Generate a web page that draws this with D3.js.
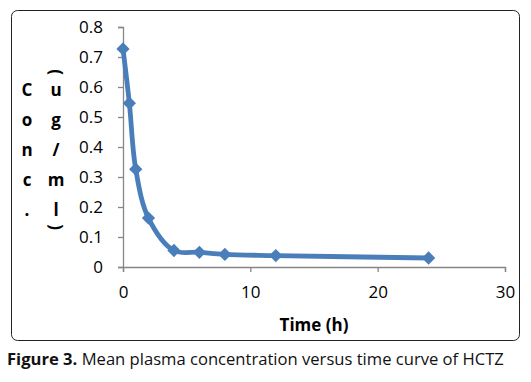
<!DOCTYPE html>
<html><head><meta charset="utf-8">
<script src="https://cdn.jsdelivr.net/npm/d3@7"></script>
<style>body{margin:0;background:#fff}svg{display:block}</style>
</head><body>
<script>
const times = [0, 0.5, 1, 2, 4, 6, 8, 12, 24];
const conc = [0.727, 0.546, 0.326, 0.163, 0.055, 0.049, 0.042, 0.038, 0.030];
const xTicks = [0, 10, 20, 30];
const yTicks = [0, 0.1, 0.2, 0.3, 0.4, 0.5, 0.6, 0.7, 0.8];
const yLabelCol1 = ["C", "o", "n", "c", "."];
const yLabelCol2 = ["(", "u", "g", "/", "m", "l", ")"];
const xTitle = "Time (h)";
const captionBold = "Figure 3.";
const captionText = " Mean plasma concentration versus time curve of HCTZ";

const W = 531, H = 382;
const font = "'Open Sans', 'Noto Sans', sans-serif";
const svg = d3.select("body").append("svg").attr("width", W).attr("height", H);

svg.append("rect").attr("x", 11.5).attr("y", 10.5).attr("width", 508).attr("height", 330)
  .attr("rx", 6).attr("fill", "#fff").attr("stroke", "#222").attr("stroke-width", 1);

const x = d3.scaleLinear().domain([0, 30]).range([123, 505]);
const y = d3.scaleLinear().domain([0, 0.8]).range([267, 27]);

const gx = svg.append("g").attr("transform", "translate(0,267)")
  .call(d3.axisBottom(x).tickValues(xTicks).tickSize(5).tickPadding(14).tickFormat(d3.format("d")));
const gy = svg.append("g").attr("transform", "translate(123,0)")
  .call(d3.axisLeft(y).tickValues(yTicks).tickSize(5).tickPadding(15).tickFormat(d => d === 0 ? "0" : d3.format(".1f")(d)));
[gx, gy].forEach(g => {
  g.selectAll("path,line").attr("stroke", "#868686").attr("stroke-width", 1.3);
  g.selectAll("text").attr("font-family", font).attr("font-size", 17).attr("fill", "#000");
});

const line = d3.line().x((d, i) => x(times[i])).y(d => y(d)).curve(d3.curveCatmullRom.alpha(0.5));
svg.append("path").datum(conc).attr("d", line).attr("fill", "none")
  .attr("stroke", "#4a7ebb").attr("stroke-width", 4.8).attr("stroke-linejoin", "round");

svg.selectAll(".pt").data(conc).enter().append("path")
  .attr("transform", (d, i) => `translate(${x(times[i])},${y(d)}) rotate(45)`)
  .attr("d", d3.symbol().type(d3.symbolSquare).size(88))
  .attr("fill", "#4a7ebb");

svg.append("g").selectAll("text").data(yLabelCol1).enter().append("text")
  .attr("x", 27).attr("y", (d, i) => 96 + i * 30).attr("text-anchor", "middle")
  .attr("font-family", font).attr("font-weight", "bold").attr("font-size", 17).text(d => d);

svg.append("g").selectAll("text").data(yLabelCol2).enter().append("text")
  .attr("transform", (d, i) => {
    const cy = [72, 96, 126, 156, 186, 216, 227][i];
    if (d === "(" || d === ")") return `translate(55,${cy}) rotate(90)`;
    return `translate(56,${cy})`;
  })
  .attr("dy", d => (d === "(" || d === ")") ? "0.3em" : 0)
  .attr("text-anchor", "middle")
  .attr("font-family", font).attr("font-weight", "bold").attr("font-size", 17).text(d => d);

svg.append("text").attr("x", 314).attr("y", 331).attr("text-anchor", "middle")
  .attr("font-family", font).attr("font-weight", "bold").attr("font-size", 17).text(xTitle);

const cap = svg.append("text").attr("x", 7).attr("y", 365)
  .attr("font-family", font).attr("font-size", 16.6).attr("fill", "#111");
cap.append("tspan").attr("font-weight", "bold").text(captionBold);
cap.append("tspan").text(captionText);
</script>
</body></html>
